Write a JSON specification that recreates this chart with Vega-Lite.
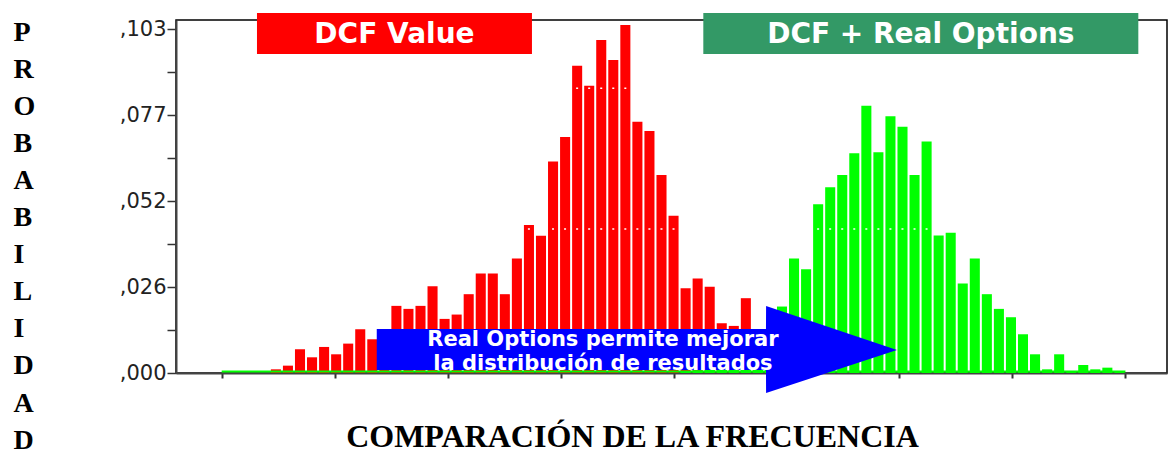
{
  "$schema": "https://vega.github.io/schema/vega-lite/v6.json",
  "width": 991,
  "height": 353,
  "autosize": {"type": "none"},
  "padding": {"left": 176, "top": 20, "right": 3, "bottom": 81},
  "background": "white",
  "config": {"view": {"stroke": "#000000", "strokeWidth": 1.5}},
  "datasets": {
    "red": [
      {"x": 4, "x2": 5, "y": 0.0011}, {"x": 5, "x2": 6, "y": 0.0022}, {"x": 6, "x2": 7, "y": 0.0071},
      {"x": 7, "x2": 8, "y": 0.0047}, {"x": 8, "x2": 9, "y": 0.0078}, {"x": 9, "x2": 10, "y": 0.0056},
      {"x": 10, "x2": 11, "y": 0.0088}, {"x": 11, "x2": 12, "y": 0.0131}, {"x": 12, "x2": 13, "y": 0.0101},
      {"x": 13, "x2": 14, "y": 0.011}, {"x": 14, "x2": 15, "y": 0.0201}, {"x": 15, "x2": 16, "y": 0.0192},
      {"x": 16, "x2": 17, "y": 0.0201}, {"x": 17, "x2": 18, "y": 0.026}, {"x": 18, "x2": 19, "y": 0.0162},
      {"x": 19, "x2": 20, "y": 0.0175}, {"x": 20, "x2": 21, "y": 0.0236}, {"x": 21, "x2": 22, "y": 0.0298},
      {"x": 22, "x2": 23, "y": 0.0298}, {"x": 23, "x2": 24, "y": 0.0236}, {"x": 24, "x2": 25, "y": 0.0343},
      {"x": 25, "x2": 26, "y": 0.0443}, {"x": 26, "x2": 27, "y": 0.0411}, {"x": 27, "x2": 28, "y": 0.0633},
      {"x": 28, "x2": 29, "y": 0.0707}, {"x": 29, "x2": 30, "y": 0.092}, {"x": 30, "x2": 31, "y": 0.086},
      {"x": 31, "x2": 32, "y": 0.0997}, {"x": 32, "x2": 33, "y": 0.0937}, {"x": 33, "x2": 34, "y": 0.1042},
      {"x": 34, "x2": 35, "y": 0.0752}, {"x": 35, "x2": 36, "y": 0.0725}, {"x": 36, "x2": 37, "y": 0.0593},
      {"x": 37, "x2": 38, "y": 0.0471}, {"x": 38, "x2": 39, "y": 0.0254}, {"x": 39, "x2": 40, "y": 0.0283},
      {"x": 40, "x2": 41, "y": 0.0258}, {"x": 41, "x2": 42, "y": 0.0149}, {"x": 42, "x2": 43, "y": 0.0141},
      {"x": 43, "x2": 44, "y": 0.0224}, {"x": 44, "x2": 45, "y": 0.008}, {"x": 45, "x2": 46, "y": 0.005},
      {"x": 46, "x2": 47, "y": 0.003}, {"x": 47, "x2": 48, "y": 0.0012}
    ],
    "green": [
      {"x": 38, "x2": 39, "y": 0.0004}, {"x": 39, "x2": 40, "y": 0.0008}, {"x": 40, "x2": 41, "y": 0.0015},
      {"x": 41, "x2": 42, "y": 0.0025}, {"x": 42, "x2": 43, "y": 0.004}, {"x": 43, "x2": 44, "y": 0.006},
      {"x": 44, "x2": 45, "y": 0.009}, {"x": 45, "x2": 46, "y": 0.012}, {"x": 46, "x2": 47, "y": 0.0199},
      {"x": 47, "x2": 48, "y": 0.0343}, {"x": 48, "x2": 49, "y": 0.0311}, {"x": 49, "x2": 50, "y": 0.0505},
      {"x": 50, "x2": 51, "y": 0.0556}, {"x": 51, "x2": 52, "y": 0.0593}, {"x": 52, "x2": 53, "y": 0.0658},
      {"x": 53, "x2": 54, "y": 0.08}, {"x": 54, "x2": 55, "y": 0.0661}, {"x": 55, "x2": 56, "y": 0.0769},
      {"x": 56, "x2": 57, "y": 0.0737}, {"x": 57, "x2": 58, "y": 0.0593}, {"x": 58, "x2": 59, "y": 0.0693},
      {"x": 59, "x2": 60, "y": 0.0412}, {"x": 60, "x2": 61, "y": 0.042}, {"x": 61, "x2": 62, "y": 0.0268},
      {"x": 62, "x2": 63, "y": 0.0343}, {"x": 63, "x2": 64, "y": 0.0236}, {"x": 64, "x2": 65, "y": 0.0192},
      {"x": 65, "x2": 66, "y": 0.0167}, {"x": 66, "x2": 67, "y": 0.0116}, {"x": 67, "x2": 68, "y": 0.0056},
      {"x": 68, "x2": 69, "y": 0.0011}, {"x": 69, "x2": 70, "y": 0.0056}, {"x": 70, "x2": 71, "y": 0.0003},
      {"x": 71, "x2": 72, "y": 0.0024}, {"x": 72, "x2": 73, "y": 0.0011}, {"x": 73, "x2": 74, "y": 0.0016},
      {"x": 74, "x2": 75, "y": 0.0003}
    ],
    "baseline": [{"x": 0, "x2": 75, "y": 0}],
    "dots": [{"x": 0, "x2": 75, "y": 0.0853}, {"x": 0, "x2": 75, "y": 0.0431}],
    "boxes": [
      {"x": 2.93, "x2": 25.75, "y": 0.1078, "y2": 0.0955, "name": "DCF Value"},
      {"x": 39.97, "x2": 76.07, "y": 0.1078, "y2": 0.0955, "name": "DCF + Real Options"}
    ],
    "boxlabels": [
      {"x": 14.34, "y": 0.0988, "t": "DCF Value"},
      {"x": 58.02, "y": 0.0988, "t": "DCF  + Real Options"}
    ],
    "arrow": [
      {"x": 12.87, "y": 0.01318, "y2": 0.0009},
      {"x": 45.17, "y": 0.01318, "y2": 0.0009},
      {"x": 45.18, "y": 0.02006, "y2": -0.00599},
      {"x": 56.04, "y": 0.00689, "y2": 0.00689}
    ],
    "arrowtext": [
      {"x": 31.64, "y": 0.00808, "t": "Real Options permite mejorar"},
      {"x": 31.64, "y": 0.0009, "t": "la distribución de resultados"}
    ]
  },
  "encoding": {
    "x": {
      "field": "x",
      "type": "quantitative",
      "scale": {"domain": [-3.79, 78.45], "nice": false, "zero": false},
      "axis": {
        "values": [0, 9.375, 18.75, 28.125, 37.5, 46.875, 56.25, 65.625, 75],
        "labels": false,
        "grid": false,
        "tickSize": 5,
        "tickWidth": 2,
        "tickColor": "#333333",
        "domainColor": "#444444",
        "domainWidth": 2,
        "title": "COMPARACIÓN DE LA FRECUENCIA",
        "titleFont": "Liberation Serif",
        "titleFontWeight": "bold",
        "titleFontSize": 32,
        "titleColor": "#000000",
        "titleAlign": "center",
        "titleBaseline": "alphabetic",
        "titleX": 456,
        "titleY": 73
      }
    },
    "y": {
      "field": "y",
      "type": "quantitative",
      "scale": {"domain": [0, 0.1057], "nice": false, "zero": false},
      "axis": {
        "values": [0, 0.012875, 0.02575, 0.038625, 0.0515, 0.064375, 0.07725, 0.090125, 0.103],
        "labelExpr": "datum.value < 0.001 ? ',000' : abs(datum.value - 0.02575) < 0.001 ? ',026' : abs(datum.value - 0.0515) < 0.001 ? ',052' : abs(datum.value - 0.07725) < 0.001 ? ',077' : abs(datum.value - 0.103) < 0.001 ? ',103' : ''",
        "labelFont": "DejaVu Sans",
        "labelFontSize": 21,
        "labelColor": "#222222",
        "labelPadding": 1,
        "grid": false,
        "tickSize": 9,
        "tickWidth": 1.5,
        "tickColor": "#333333",
        "domainColor": "#444444",
        "domainWidth": 2,
        "title": ["P", "R", "O", "B", "A", "B", "I", "L", "I", "D", "A", "D"],
        "titleFont": "Liberation Serif",
        "titleFontWeight": "bold",
        "titleFontSize": 28,
        "titleLineHeight": 37.1,
        "titleColor": "#000000",
        "titleAngle": 0,
        "titleAlign": "left",
        "titleBaseline": "alphabetic",
        "titleX": -163,
        "titleY": 20
      }
    }
  },
  "layer": [
    {
      "data": {"name": "red"},
      "mark": {"type": "rect", "color": "#ff0000", "xOffset": 1, "x2Offset": -1},
      "encoding": {"x2": {"field": "x2"}, "y2": {"datum": 0}}
    },
    {
      "data": {"name": "baseline"},
      "mark": {"type": "rule", "color": "#00ff00", "strokeWidth": 2, "yOffset": -1.5},
      "encoding": {"x2": {"field": "x2"}}
    },
    {
      "data": {"name": "green"},
      "mark": {"type": "rect", "color": "#00ff00", "xOffset": 1, "x2Offset": -1},
      "encoding": {"x2": {"field": "x2"}, "y2": {"datum": 0}}
    },
    {
      "data": {"name": "dots"},
      "mark": {"type": "rule", "color": "#ffffff", "strokeWidth": 1.5, "strokeDash": [2, 10.05], "strokeDashOffset": -5},
      "encoding": {"x2": {"field": "x2"}}
    },
    {
      "data": {"name": "boxes"},
      "mark": {"type": "rect"},
      "encoding": {
        "x2": {"field": "x2"},
        "y2": {"field": "y2"},
        "color": {"field": "name", "type": "nominal", "scale": {"domain": ["DCF Value", "DCF + Real Options"], "range": ["#ff0000", "#339966"]}, "legend": null}
      }
    },
    {
      "data": {"name": "boxlabels"},
      "mark": {"type": "text", "font": "DejaVu Sans", "fontWeight": "bold", "fontSize": 28, "color": "#ffffff", "align": "center", "baseline": "alphabetic"},
      "encoding": {"text": {"field": "t"}}
    },
    {
      "data": {"name": "arrow"},
      "mark": {"type": "area", "color": "#0000ff", "opacity": 1, "orient": "vertical"},
      "encoding": {"y2": {"field": "y2"}}
    },
    {
      "data": {"name": "arrowtext"},
      "mark": {"type": "text", "font": "DejaVu Sans", "fontWeight": "bold", "fontSize": 21, "color": "#ffffff", "align": "center", "baseline": "alphabetic"},
      "encoding": {"text": {"field": "t"}}
    }
  ]
}
